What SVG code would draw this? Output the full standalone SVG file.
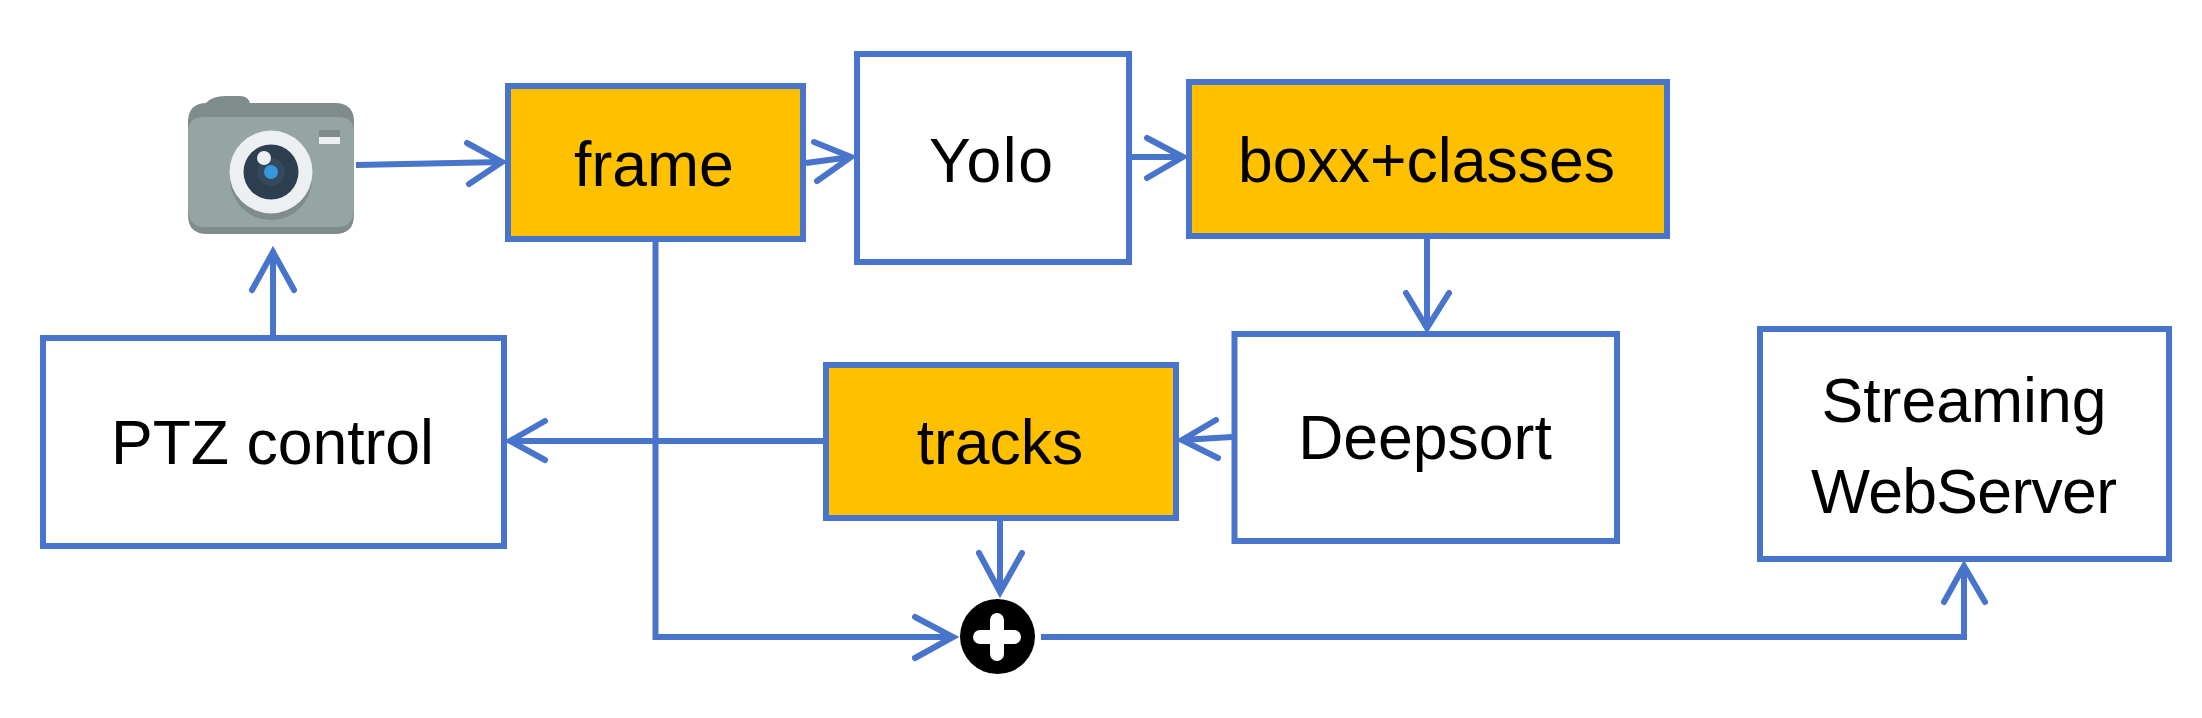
<svg xmlns="http://www.w3.org/2000/svg" width="2202" height="718" viewBox="0 0 2202 718">
<style>
.box{fill:#fff;stroke:#4874CB;stroke-width:6}
.hl{fill:#FFC000;stroke:#4874CB;stroke-width:6}
.t{font-family:"Liberation Sans",Arial,sans-serif;font-size:62.5px;fill:#000;text-anchor:middle}
.c{fill:none;stroke:#4874CB;stroke-width:6}
.h{fill:none;stroke:#4874CB;stroke-width:6;stroke-linecap:round;stroke-linejoin:miter;stroke-miterlimit:8}
</style>
<rect width="2202" height="718" fill="#fff"/>
<g id="connectors">
<path class="c" d="M356 165L502 162"/><path class="h" d="M467 143L502 162L469 184"/>
<path class="c" d="M806 163L851 157"/><path class="h" d="M814 142L851 157L817 181"/>
<path class="c" d="M1132 157L1183 157"/><path class="h" d="M1147 138L1183 157L1147 178"/>
<path class="c" d="M1427 238V328"/><path class="h" d="M1406 293L1427 328L1449 293"/>
<path class="c" d="M1232 437L1182 440"/><path class="h" d="M1216 420L1182 440L1218 458"/>
<path class="c" d="M823 441H510"/><path class="h" d="M545 421L510 441L545 460"/>
<path class="c" d="M273 336V252"/><path class="h" d="M252 290L273 252L294 290"/>
<path class="c" d="M655.500 240V637H953"/><path class="h" d="M915 617L953 637L915 658"/>
<path class="c" d="M1000 520V592"/><path class="h" d="M979 553L1000 592L1022 553"/>
<path class="c" d="M1041 637H1964V566"/><path class="h" d="M1944 602L1964 566L1985 602"/>
</g>
<g id="camera">
<path d="M188 122Q188 103 207 103H206Q212 96 226 96H240Q248 96 250 103H335Q354 103 354 122V215Q354 234 335 234H207Q188 234 188 215Z" fill="#7F8C8B"/>
<path d="M188 132Q188 117 204 117H338Q354 117 354 132V207Q354 227 338 227H204Q188 227 188 207Z" fill="#95A5A4"/>
<circle cx="271" cy="179" r="41" fill="#7F8C8B"/>
<circle cx="271" cy="172" r="41.500" fill="#ECF0F1"/>
<circle cx="271" cy="172" r="27.500" fill="#2C3E50"/>
<circle cx="271" cy="172" r="14" fill="#34495E"/>
<circle cx="271" cy="172" r="7" fill="#3498DB"/>
<circle cx="264" cy="158" r="7" fill="#ECF0F1"/>
<rect x="319" y="130" width="21" height="7" fill="#7F8C8B"/>
<rect x="319" y="137" width="21" height="7" fill="#ECF0F1"/>
</g>
<g id="frame"><rect class="hl" x="508" y="86" width="295" height="153"/><text class="t" x="654" y="186">frame</text></g>
<g id="yolo"><rect class="box" x="857" y="54" width="272" height="208"/><text class="t" x="991" y="182" textLength="124">Yolo</text></g>
<g id="boxx"><rect class="hl" x="1189" y="82" width="478" height="154"/><text class="t" x="1426.500" y="182">boxx+classes</text></g>
<g id="deepsort"><rect class="box" x="1234.500" y="334" width="382.500" height="207"/><text class="t" x="1425" y="459">Deepsort</text></g>
<g id="tracks"><rect class="hl" x="826" y="365" width="350" height="153"/><text class="t" x="1000" y="464">tracks</text></g>
<g id="ptz"><rect class="box" x="43" y="338" width="461" height="208"/><text class="t" x="272.500" y="464">PTZ control</text></g>
<g id="streaming"><rect class="box" x="1760" y="329" width="409" height="230"/><text class="t" x="1964" y="422">Streaming</text><text class="t" x="1964" y="513" textLength="306">WebServer</text></g>
<g id="plus">
<circle cx="997.500" cy="636.500" r="37.500" fill="#000"/>
<path d="M997 620V654M980 637H1014" stroke="#fff" stroke-width="14" stroke-linecap="round" fill="none"/>
</g>
</svg>
